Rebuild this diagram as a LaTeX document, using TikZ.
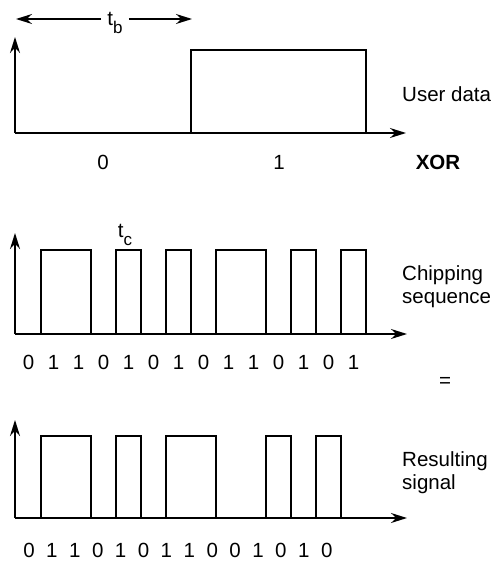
\documentclass[tikz,border=0pt]{standalone}
\usepackage{fontspec}
\setmainfont{Liberation Sans}
\usetikzlibrary{positioning,arrows.meta}

\begin{document}
\begin{tikzpicture}[
  x=1pt, y=-1pt,
  font=\fontsize{20.5}{22.5}\selectfont,
  >={Stealth[length=16pt,width=10pt]},
  axisline/.style={->, draw=black, line width=1.6pt},
  pulseline/.style={draw=black, line width=2.2pt, line join=miter},
  bitlabel/.style={inner sep=0pt},
  sidelabel/.style={anchor=north west, align=left, inner sep=0pt}
]
  \useasboundingbox (0,0) rectangle (495,562);

  % axes of the three panels
  \foreach \p/\yo/\yt/\xt in {1/133/37/406, 2/334/233/407, 3/518/420/407} {
    \coordinate (o\p) at (15,\yo);
    \coordinate (ytip\p) at (15,\yt);
    \coordinate (xtip\p) at (\xt,\yo);
    \draw[axisline] (o\p) -- (ytip\p);
    \draw[axisline] (o\p) -- (xtip\p);
  }

  % user data
  \draw[pulseline] (191,133) -- (191,50) -- (366,50) -- (366,133);
  \node[anchor=base, inner xsep=6pt, inner ysep=0pt] (tb) at (115,25) {t\raisebox{-0.4em}{\fontsize{17}{17}\selectfont b}};
  \coordinate (tbl) at (16,19);
  \coordinate (tbr) at (192,19);
  \draw[->, line width=1.3pt] (tb.west |- tbl) -- (tbl);
  \draw[->, line width=1.3pt] (tb.east |- tbr) -- (tbr);
  \node[bitlabel] (bit0) at (103,162) {0};
  \node[bitlabel] (bit1) at (279,162) {1};
  \node[bitlabel, font=\fontsize{20.5}{22.5}\selectfont\bfseries] (xor) at (438,162) {XOR};
  \node[anchor=base west, inner sep=0pt] (userdata) at (402,101) {User data};

  % chipping sequence
  \foreach \a/\b in {1/3, 4/5, 6/7, 8/10, 11/12, 13/14}
    \draw[pulseline] ({16+25*\a},334) -- ({16+25*\a},250) -- ({16+25*\b},250) -- ({16+25*\b},334);
  \foreach \c [count=\i from 0] in {0,1,1,0,1,0,1,0,1,1,0,1,0,1}
    \node[bitlabel] (chip\i) at ({28.5+25*\i},362) {\c};
  \node[anchor=base, inner sep=0pt] (tc) at (125,237) {t\raisebox{-0.4em}{\fontsize{17}{17}\selectfont c}};
  \node[sidelabel] (chipseq) at (402,265.5) {Chipping\\sequence};
  \node[bitlabel] (equals) at (445,382) {=};

  % resulting signal
  \foreach \a/\b in {1/3, 4/5, 6/8, 10/11, 12/13}
    \draw[pulseline] ({16+25*\a},518) -- ({16+25*\a},436) -- ({16+25*\b},436) -- ({16+25*\b},518);
  \foreach \r [count=\i from 0] in {0,1,1,0,1,0,1,1,0,0,1,0,1,0}
    \node[bitlabel] (res\i) at ({29+22.9*\i},550) {\r};
  \node[sidelabel] (ressig) at (402,451.5) {Resulting\\signal};
\end{tikzpicture}
\end{document}
